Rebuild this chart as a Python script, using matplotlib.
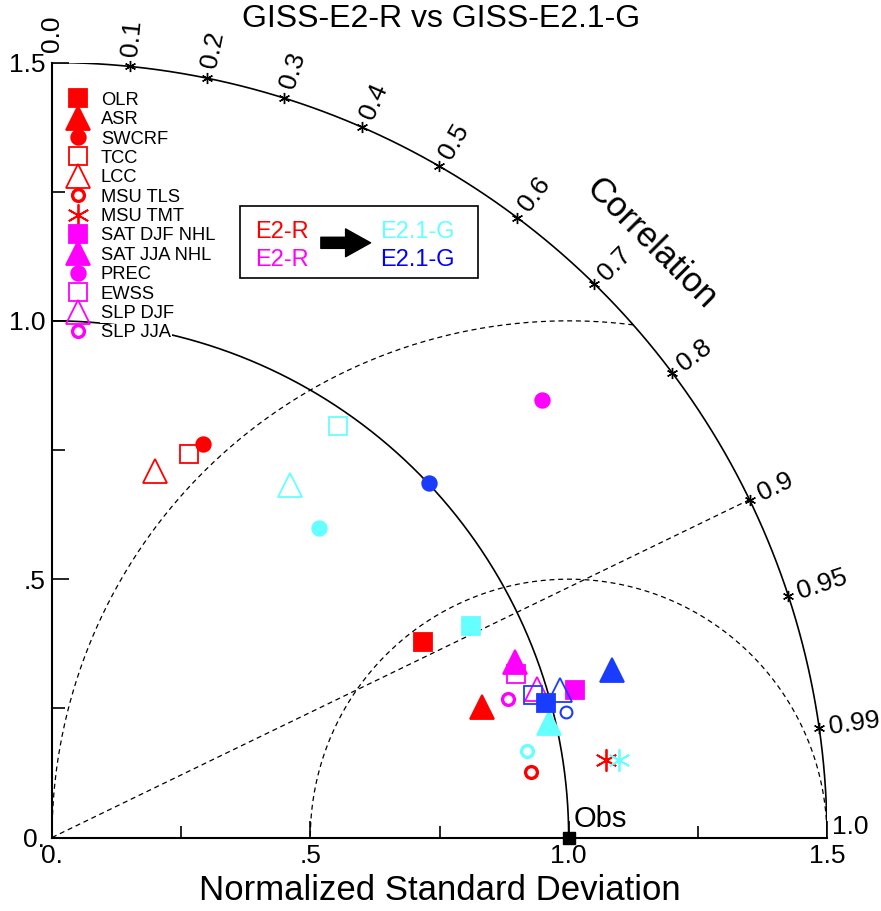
import numpy as np
import matplotlib
matplotlib.use("Agg")
import matplotlib.pyplot as plt
from matplotlib.patches import Rectangle

plt.rcParams['font.family'] = ['Liberation Sans', 'DejaVu Sans']

# normalized standard deviation and correlation vs. observations
vars_a = ["OLR", "ASR", "SWCRF", "TCC", "LCC", "MSU TLS", "MSU TMT"]
vars_b = ["SAT DJF NHL", "SAT JJA NHL", "PREC", "EWSS", "SLP DJF", "SLP JJA"]

# GISS-E2-R
std_red = [0.811, 0.870, 0.816, 0.788, 0.737, 0.9355, 1.083]
cor_red = [0.885, 0.957, 0.358, 0.336, 0.2705, 0.9909, 0.9904]
std_mag = [1.052, 0.958, 1.271, 0.952, 0.981, 0.922]
cor_mag = [0.9625, 0.935, 0.746, 0.943, 0.9564, 0.9569]
# GISS-E2.1-G
std_cyan = [0.908, 0.987, 0.791, 0.970, 0.823, 0.934, 1.107]
cor_cyan = [0.893, 0.9743, 0.653, 0.571, 0.5595, 0.9837, 0.9908]
std_blue = [0.992, 1.132, 1.0015, 0.971, 1.024, 1.025]
cor_blue = [0.9648, 0.9579, 0.7285, 0.9588, 0.9604, 0.9714]

corr_ticks = [0.1, 0.2, 0.3, 0.4, 0.5, 0.6, 0.7, 0.8, 0.9, 0.95, 0.99]
corr_labels = ["0.1", "0.2", "0.3", "0.4", "0.5", "0.6", "0.7", "0.8", "0.9", "0.95", "0.99"]

RED, MAG, CYAN, BLUE = "#ff0000", "#ff00ff", "#66ffff", "#1a3cff"

# marker, filled, size
styles = [("s", True, 13), ("^", True, 17), ("o", True, 10.5),
          ("s", False, 13), ("^", False, 17), ("o", False, 8.5),
          ((6, 2, 0), False, 16)]

fig = plt.figure(figsize=(8.81, 9.11), dpi=100)
ax = fig.add_axes([52/881, 73.5/911, 775/881, 775/911])
ax.set_xlim(0, 1.5)
ax.set_ylim(0, 1.5)

t = np.linspace(0, np.pi/2, 300)
ax.plot(1.5*np.cos(t), 1.5*np.sin(t), color="k", lw=1.2, zorder=2)
ax.plot(np.cos(t), np.sin(t), color="k", lw=1.2, zorder=2)

# centered RMS circles
phi = np.linspace(0, np.pi, 300)
ax.plot(1 + 0.5*np.cos(phi), 0.5*np.sin(phi), "k--", lw=0.9, dashes=(4, 3), zorder=1)
phi = np.linspace(np.arccos(0.125), np.pi, 300)
ax.plot(1 + np.cos(phi), np.sin(phi), "k--", lw=0.9, dashes=(4, 3), zorder=1)
# correlation 0.9 line
a9 = np.arccos(0.9)
ax.plot([0, 1.5*np.cos(a9)], [0, 1.5*np.sin(a9)], "k--", lw=0.9, dashes=(4, 3), zorder=1)

# correlation ticks and labels
for c, lab in zip(corr_ticks, corr_labels):
    a = np.arccos(c)
    ax.plot(1.5*np.cos(a), 1.5*np.sin(a), marker=(6, 2, 0), ms=8, mew=1, color="k",
            clip_on=False, zorder=3)
    ax.text(1.52*np.cos(a), 1.52*np.sin(a), lab, rotation=np.degrees(a), fontsize=19,
            ha="left", va="center", rotation_mode="anchor")
ax.text(0.0, 1.52, "0.0", rotation=90, fontsize=19, ha="left", va="center",
        rotation_mode="anchor")
ax.text(1.51, 0.02, "1.0", fontsize=19, ha="left", va="center")
ax.text(1.16, 1.15, "Correlation", rotation=-45, fontsize=25, ha="center", va="center",
        rotation_mode="anchor")

# observation
ax.plot(1.0, 0.0, "s", color="k", ms=8, clip_on=False, zorder=5)
ax.text(1.01, 0.035, "Obs", fontsize=21, ha="left", va="center")


def draw(stds, cors, color, names=None, ring=2.4):
    for i, (s, c) in enumerate(zip(stds, cors)):
        m, filled, ms = styles[i]
        x, y = s*c, s*np.sqrt(1 - c*c)
        mew = ring if m == "o" and not filled else 1.3
        ax.plot(x, y, linestyle="none", marker=m, ms=ms, mew=mew, color=color,
                mfc=color if filled else "none", mec=color,
                label=names[i] if names else None, zorder=4)


draw(std_red, cor_red, RED, vars_a)
draw(std_mag, cor_mag, MAG, vars_b)
draw(std_cyan, cor_cyan, CYAN)
draw(std_blue, cor_blue, BLUE, ring=1.5)

leg = ax.legend(loc="upper left", bbox_to_anchor=(0.017, 0.967), fontsize=13.2,
                numpoints=1, labelspacing=0.13, handlelength=1.0, handletextpad=0.75,
                borderpad=0.2, borderaxespad=0, frameon=False)
for txt in leg.get_texts():
    txt.set_bbox(dict(facecolor="white", edgecolor="none", pad=0.5))
leg.set_zorder(6)

# model key box
ax.add_patch(Rectangle((0.364, 1.083), 0.46, 0.139, fill=False, ec="k", lw=1.2, zorder=5))
ax.text(0.393, 1.172, "E2-R", color=RED, fontsize=17, va="center")
ax.text(0.393, 1.118, "E2-R", color=MAG, fontsize=17, va="center")
ax.text(0.635, 1.172, "E2.1-G", color=CYAN, fontsize=17, va="center")
ax.text(0.635, 1.118, "E2.1-G", color="#0000ff", fontsize=17, va="center")
ax.annotate("", xy=(0.622, 1.151), xytext=(0.515, 1.151),
            arrowprops=dict(arrowstyle="simple,head_width=1.0,head_length=0.9,tail_width=0.4",
                            color="k", mutation_scale=20))

for s in ["top", "right"]:
    ax.spines[s].set_visible(False)
for s in ["left", "bottom"]:
    ax.spines[s].set_linewidth(1.5)

ticks = [0, 0.5, 1.0, 1.5]
labels = ["0.", ".5", "1.0", "1.5"]
ax.set_xticks(ticks, labels)
ax.set_yticks(ticks, labels)
ax.set_xticks([0.25, 0.75, 1.25], minor=True)
ax.set_yticks([0.25, 0.75, 1.25], minor=True)
ax.tick_params(which="both", direction="in", labelsize=19, width=1.2)
ax.tick_params(which="major", length=12, pad=5)
ax.tick_params(which="minor", length=9)

ax.set_xlabel("Normalized Standard Deviation", fontsize=25, labelpad=4)
fig.text(441/881, 1 - 19/911, "GISS-E2-R vs GISS-E2.1-G", fontsize=23,
         ha="center", va="center")

fig.savefig("out.png", dpi=100)
